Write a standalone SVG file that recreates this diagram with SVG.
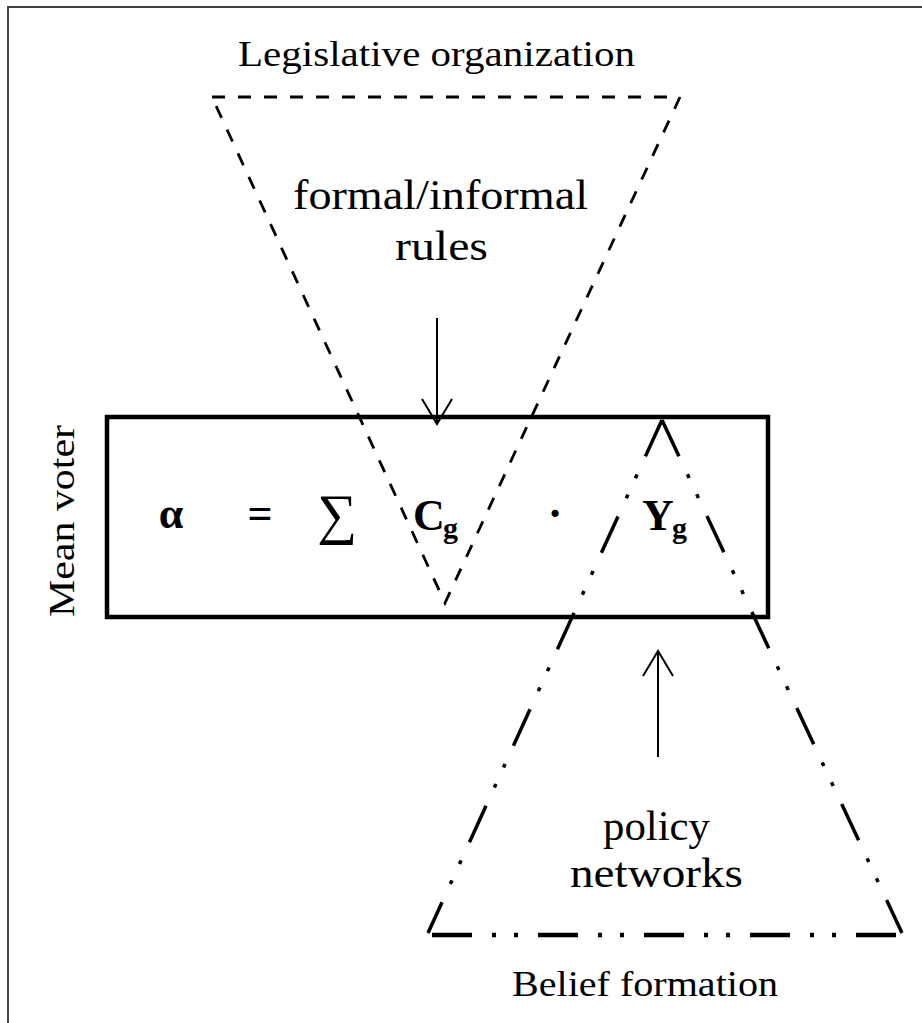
<svg xmlns="http://www.w3.org/2000/svg" width="922" height="1023" viewBox="0 0 922 1023">
  <style>
    .lbl { font-family: "Liberation Serif", "DejaVu Serif", serif; fill: #000; text-anchor: middle; }
    .math { font-family: "Liberation Serif", "DejaVu Serif", serif; fill: #000; text-anchor: middle; font-weight: bold; }
    .sub { font-family: "Liberation Serif", "DejaVu Serif", serif; fill: #000; text-anchor: start; font-weight: bold; }
    .dash { fill: none; stroke: #000; stroke-width: 2.8; stroke-dasharray: 13 13; }
    .dd { fill: none; stroke: #000; stroke-dasharray: 40 20 4 18 4 20; }
    .arrow { fill: none; stroke: #000; stroke-width: 2; }
  </style>
  <rect x="0" y="0" width="922" height="1023" fill="#fff"/>
  <g id="frame">
    <line x1="7" y1="7" x2="922" y2="7" stroke="#000" stroke-width="1.5"/>
    <line x1="8" y1="7" x2="8" y2="1023" stroke="#444" stroke-width="2"/>
  </g>
  <g id="legislative-organization">
    <path class="dash" d="M212 97 L680 97 L445 603 Z"/>
    <text class="lbl" x="436.5" y="66" font-size="36" textLength="397" lengthAdjust="spacingAndGlyphs">Legislative organization</text>
    <text class="lbl" x="440.5" y="209" font-size="42" textLength="295" lengthAdjust="spacingAndGlyphs">formal/informal</text>
    <text class="lbl" x="441.5" y="260" font-size="42" textLength="93" lengthAdjust="spacingAndGlyphs">rules</text>
  </g>
  <g id="belief-formation">
    <line class="dd" x1="662" y1="420" x2="428" y2="933" stroke-width="3.5"/>
    <line class="dd" x1="662" y1="420" x2="902" y2="933" stroke-width="3.5"/>
    <line class="dd" x1="432" y1="935" x2="902" y2="935" stroke-width="4.5"/>
    <text class="lbl" x="656.5" y="840" font-size="42" textLength="107" lengthAdjust="spacingAndGlyphs">policy</text>
    <text class="lbl" x="656.5" y="887" font-size="42" textLength="173" lengthAdjust="spacingAndGlyphs">networks</text>
    <text class="lbl" x="645" y="996" font-size="35" textLength="266" lengthAdjust="spacingAndGlyphs">Belief formation</text>
  </g>
  <g id="mean-voter">
    <rect x="107" y="417" width="661" height="200" fill="none" stroke="#000" stroke-width="4.5"/>
    <text class="lbl" transform="translate(74 521) rotate(-90)" x="0" y="0" font-size="36" textLength="192" lengthAdjust="spacingAndGlyphs">Mean voter</text>
    <text class="math" x="171" y="528" font-size="44">α</text>
    <text class="math" x="260" y="528" font-size="44">=</text>
    <text class="lbl" x="337" y="533" font-size="56">∑</text>
    <text class="math" x="429" y="530" font-size="44">C</text>
    <text class="sub" x="443" y="538" font-size="30">g</text>
    <text class="math" x="555" y="528" font-size="44">·</text>
    <text class="math" x="658" y="530" font-size="44">Y</text>
    <text class="sub" x="672" y="538" font-size="30">g</text>
  </g>
  <g id="connectors">
    <line class="arrow" x1="437" y1="318" x2="437" y2="424"/>
    <polyline class="arrow" points="422,399 437,424 452,399"/>
    <line class="arrow" x1="658" y1="757" x2="658" y2="651"/>
    <polyline class="arrow" points="643,676 658,651 673,676"/>
  </g>
</svg>
